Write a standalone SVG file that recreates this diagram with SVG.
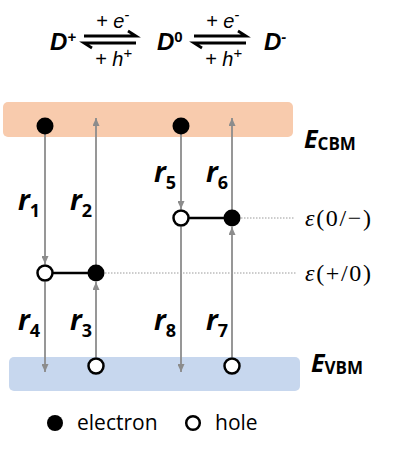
<svg xmlns="http://www.w3.org/2000/svg" width="415" height="453" viewBox="0 0 415 453">
<defs>
<marker id="ah" viewBox="0 0 8 7" refX="8" refY="3.5" markerWidth="8" markerHeight="7" markerUnits="userSpaceOnUse" orient="auto"><path d="M0,0 L8,3.5 L0,7 z" fill="#8c8c8c"/></marker>
</defs>
<style>
.conn{stroke:#8c8c8c;stroke-width:1.8;fill:none;marker-end:url(#ah)}
.el{fill:#000}
.ho{fill:#fff;stroke:#000;stroke-width:2.5}
.lvl{stroke:#000;stroke-width:2.5}
.dt{stroke:#9a9a9a;stroke-width:1;stroke-dasharray:1.5 1.5}
.harp{stroke:#000;stroke-width:2.8;fill:none;stroke-linecap:butt}
.eq{font-family:"Liberation Sans",Arial,sans-serif;font-style:italic}
.D{font-weight:bold;font-size:24px}
.pm{font-size:20px}
.sup{font-size:15px}
.lab{font-family:"Open Sans",sans-serif;font-weight:bold;font-style:italic;font-size:28px}
.sub{font-style:normal;font-size:18px}
.E{font-family:"Open Sans",sans-serif;font-weight:bold;font-style:italic;font-size:25px}
.Es{font-style:normal;font-size:17px}
.eps{font-family:"Liberation Serif","Times New Roman",serif;font-size:24px}
.leg{font-family:"Open Sans",sans-serif;font-size:21px}
</style>
<g id="equation">
<text class="eq D" x="50" y="50">D<tspan class="sup" dy="-8" font-weight="bold">+</tspan></text>
<text class="eq pm" x="96" y="28">+ e<tspan class="sup" dy="-8">-</tspan></text>
<text class="eq pm" x="95" y="66">+ h<tspan class="sup" dy="-8">+</tspan></text>
<path class="harp" d="M84,36 H136 L128,31"/>
<path class="harp" d="M136,43 H84 L92,48"/>
<text class="eq D" x="157" y="50">D<tspan class="sup" dy="-8" font-weight="bold" font-style="normal">0</tspan></text>
<text class="eq pm" x="206" y="28">+ e<tspan class="sup" dy="-8">-</tspan></text>
<text class="eq pm" x="205" y="66">+ h<tspan class="sup" dy="-8">+</tspan></text>
<path class="harp" d="M194,36 H246 L238,31"/>
<path class="harp" d="M246,43 H194 L202,48"/>
<text class="eq D" x="264" y="50">D<tspan class="sup" dy="-8" font-weight="bold">-</tspan></text>
</g>
<g id="CBM">
<rect x="3" y="102" width="290" height="35" rx="5" fill="#F8CBAD"/>
<text class="E" x="304" y="148">E<tspan class="Es" dy="2">CBM</tspan></text>
</g>
<g id="VBM">
<rect x="9" y="357" width="291" height="34" rx="5" fill="#C7D7EE"/>
<text class="E" x="311" y="372">E<tspan class="Es" dy="2">VBM</tspan></text>
</g>
<g id="connectors">
<line class="conn" x1="45" y1="134" x2="45" y2="264"/>
<line class="conn" x1="96" y1="265" x2="96" y2="118"/>
<line class="conn" x1="181" y1="134" x2="181" y2="209"/>
<line class="conn" x1="232" y1="210" x2="232" y2="118"/>
<line class="conn" x1="45" y1="282" x2="45" y2="372"/>
<line class="conn" x1="96" y1="357" x2="96" y2="282"/>
<line class="conn" x1="181" y1="227" x2="181" y2="372"/>
<line class="conn" x1="232" y1="357" x2="232" y2="227"/>
<line class="lvl" x1="53" y1="273" x2="88" y2="273"/>
<line class="lvl" x1="189" y1="218" x2="224" y2="218"/>
<line class="dt" x1="105" y1="273" x2="296" y2="273"/>
<line class="dt" x1="241" y1="218" x2="295" y2="218"/>
</g>
<g id="states">
<circle class="el" cx="45" cy="126" r="8.5"/>
<circle class="el" cx="181" cy="126" r="8.5"/>
<circle class="ho" cx="181" cy="218" r="7.5"/>
<circle class="el" cx="232" cy="218" r="8.5"/>
<circle class="ho" cx="45" cy="273" r="7.5"/>
<circle class="el" cx="96" cy="273" r="8.5"/>
<circle class="ho" cx="96" cy="366" r="7.5"/>
<circle class="ho" cx="232" cy="366" r="7.5"/>
</g>
<g id="rates">
<text class="lab" x="18" y="210">r<tspan class="sub" dy="7">1</tspan></text>
<text class="lab" x="70" y="210">r<tspan class="sub" dy="7">2</tspan></text>
<text class="lab" x="154" y="182">r<tspan class="sub" dy="7">5</tspan></text>
<text class="lab" x="206" y="182">r<tspan class="sub" dy="7">6</tspan></text>
<text class="lab" x="18" y="330">r<tspan class="sub" dy="7">4</tspan></text>
<text class="lab" x="70" y="330">r<tspan class="sub" dy="7">3</tspan></text>
<text class="lab" x="154" y="330">r<tspan class="sub" dy="7">8</tspan></text>
<text class="lab" x="206" y="330">r<tspan class="sub" dy="7">7</tspan></text>
</g>
<g id="levels">
<text class="eps" x="305" y="226" textLength="66" lengthAdjust="spacing"><tspan font-style="italic">ε</tspan>(0/−)</text>
<text class="eps" x="305" y="281" textLength="66" lengthAdjust="spacing"><tspan font-style="italic">ε</tspan>(+/0)</text>
</g>
<g id="legend">
<circle class="el" cx="55" cy="423" r="8"/>
<text class="leg" x="77" y="430">electron</text>
<circle class="ho" cx="193" cy="423" r="6.8"/>
<text class="leg" x="215" y="430">hole</text>
</g>
</svg>
